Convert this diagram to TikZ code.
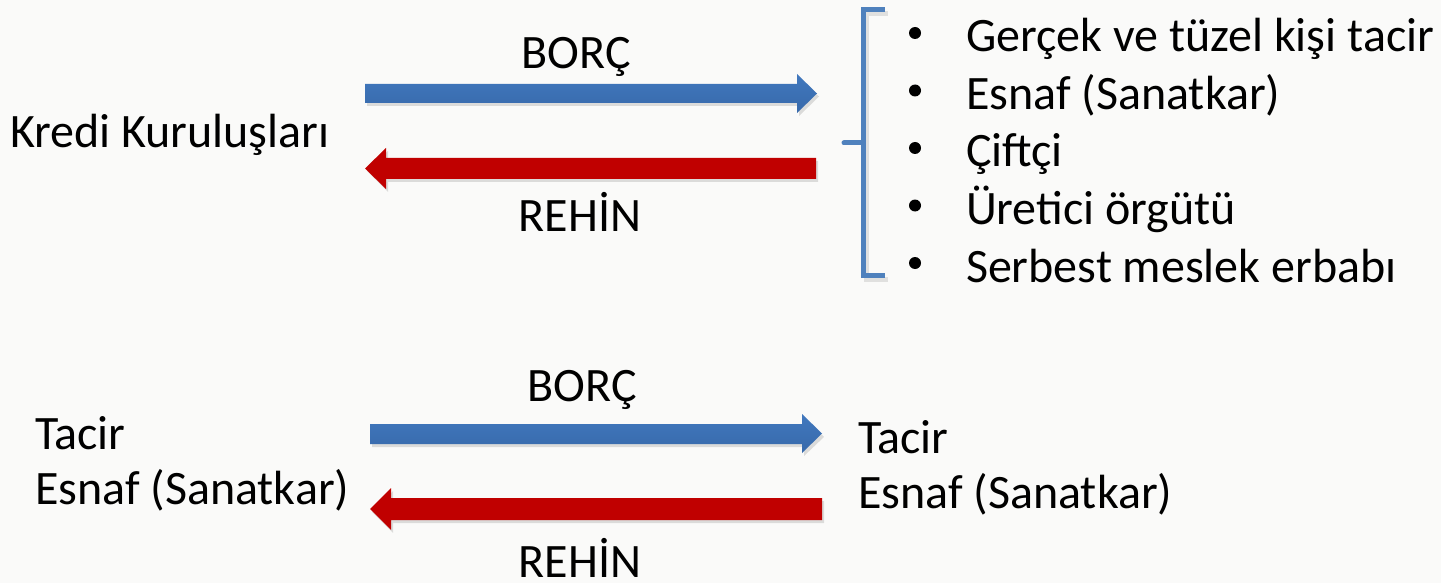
\documentclass[tikz,border=0pt]{standalone}
\usepackage{fontspec}
\setmainfont{Carlito}
\definecolor{bg}{RGB}{250,250,249}
\definecolor{arrblue}{RGB}{65,120,190}
\definecolor{arrblueD}{RGB}{55,105,170}
\definecolor{arrred}{RGB}{192,0,0}
\definecolor{brblue}{RGB}{79,129,189}
\tikzset{
  txt/.style={inner sep=0pt, outer sep=0pt, font=\fontsize{48}{57}\selectfont, text=black},
  lbl/.style={txt, anchor=base west},
  mid/.style={txt, anchor=base},
  bulletdot/.style={circle, fill=black, inner sep=0pt, minimum size=12pt},
  shadowfill/.style={fill=black, opacity=0.12},
  bluearrow/.style={top color=arrblue, bottom color=arrblueD, draw=none},
  redarrow/.style={fill=arrred, draw=none},
  bracketline/.style={draw=brblue, line width=5pt}
}
\begin{document}
\begin{tikzpicture}[x=1pt,y=-1pt]
\fill[bg] (0,0) rectangle (1441,583);
\useasboundingbox (0,0) rectangle (1441,583);

% ---- top arrows ----
\fill[shadowfill] (367,87) -- (799,87) -- (799,77) -- (819,96.5) -- (799,116) -- (799,106) -- (367,106) -- cycle;
\path[bluearrow] (365,84) -- (797,84) -- (797,74) -- (817,93.5) -- (797,113) -- (797,103) -- (365,103) -- cycle;
\fill[shadowfill] (367,171) -- (388,151) -- (388,161) -- (818,161) -- (818,182) -- (388,182) -- (388,192) -- cycle;
\path[redarrow] (365,168.5) -- (386,148) -- (386,158) -- (816,158) -- (816,179) -- (386,179) -- (386,189) -- cycle;

% ---- bottom arrows ----
\fill[shadowfill] (372,427) -- (804,427) -- (804,417) -- (824,437) -- (804,456) -- (804,447) -- (372,447) -- cycle;
\path[bluearrow] (370,424) -- (802,424) -- (802,414) -- (822,433.5) -- (802,453) -- (802,444) -- (370,444) -- cycle;
\fill[shadowfill] (372,512) -- (393,491) -- (393,501) -- (824,501) -- (824,523) -- (393,523) -- (393,533) -- cycle;
\path[redarrow] (370,509) -- (391,488) -- (391,498) -- (822,498) -- (822,520) -- (391,520) -- (391,530) -- cycle;

% ---- labels ----
\node[lbl] (kredi) at (10,148) {Kredi Kuruluşları};
\node[mid] (borc1) at (576,69) {BORÇ};
\node[mid] (rehin1) at (580,231) {REHİN};
\node[mid] (borc2) at (582,401) {BORÇ};
\node[mid] (rehin2) at (580,577) {REHİN};

\node[lbl] (tacirL) at (35,449) {Tacir};
\node[lbl] (esnafL) at (35,504) {Esnaf (Sanatkar)};
\node[lbl] (tacirR) at (858,453) {Tacir};
\node[lbl] (esnafR) at (858,508) {Esnaf (Sanatkar)};

% ---- bracket ----
\draw[draw=black, opacity=0.10, line width=5pt] (888,14) -- (866,14) -- (866,279) -- (888,279);
\draw[bracketline] (885,10) -- (863,10) -- (863,275) -- (885,275);
\draw[bracketline, line cap=round] (844,143) -- (863,143);

% ---- list ----
\node[bulletdot] (b1) at (915,33) {};
\node[bulletdot] (b2) at (915,90.5) {};
\node[bulletdot] (b3) at (915,148) {};
\node[bulletdot] (b4) at (915,205.5) {};
\node[bulletdot] (b5) at (915,263) {};
\node[lbl] (l1) at (966,52) {Gerçek ve tüzel kişi tacir};
\node[lbl] (l2) at (966,109.5) {Esnaf (Sanatkar)};
\node[lbl] (l3) at (966,167) {Çiftçi};
\node[lbl] (l4) at (966,224.5) {Üretici örgütü};
\node[lbl] (l5) at (966,282) {Serbest meslek erbabı};
\end{tikzpicture}
\end{document}
